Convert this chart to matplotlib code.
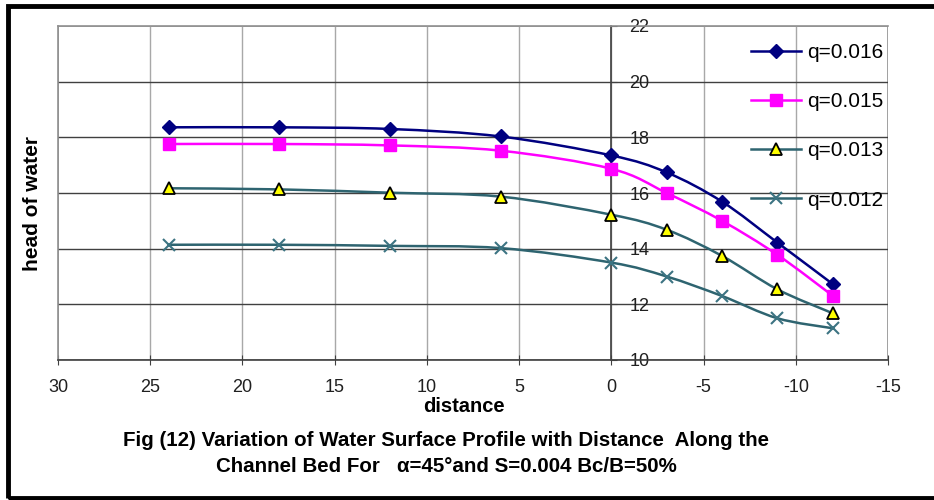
import numpy as np
from matplotlib import pyplot as plt
from matplotlib.path import Path
from matplotlib.patches import PathPatch, Rectangle
from matplotlib.lines import Line2D

# data
distance = [24, 18, 12, 6, 0, -3, -6, -9, -12]
q016 = [18.36, 18.36, 18.30, 18.03, 17.35, 16.74, 15.69, 14.22, 12.73]
q015 = [17.76, 17.76, 17.71, 17.52, 16.87, 16.00, 15.00, 13.78, 12.31]
q013 = [16.17, 16.13, 16.01, 15.87, 15.22, 14.68, 13.74, 12.54, 11.68]
q012 = [14.14, 14.14, 14.10, 14.02, 13.50, 13.00, 12.30, 11.50, 11.14]
labels = ['q=0.016', 'q=0.015', 'q=0.013', 'q=0.012']
x_ticks = [30, 25, 20, 15, 10, 5, 0, -5, -10, -15]
y_ticks = [10, 12, 14, 16, 18, 20, 22]

plt.rcParams['font.family'] = ['Liberation Sans', 'DejaVu Sans']
plt.rcParams['axes.unicode_minus'] = False


def smooth_path(xs, ys):
    """Catmull-Rom curve through the points, as cubic Bezier segments (like Excel's smoothed line)."""
    pts = np.column_stack([xs, ys]).astype(float)
    verts = [pts[0]]
    codes = [Path.MOVETO]
    n = len(pts)
    for i in range(n - 1):
        p0 = pts[i - 1] if i > 0 else pts[i]
        p1 = pts[i]
        p2 = pts[i + 1]
        p3 = pts[i + 2] if i + 2 < n else pts[i + 1]
        c1 = p1 + (p2 - p0) / 6
        c2 = p2 - (p3 - p1) / 6
        verts += [c1, c2, p2]
        codes += [Path.CURVE4] * 3
    return Path(verts, codes)


fig = plt.figure(figsize=(9.34, 5.0), dpi=100)
ax = fig.add_axes([58 / 934, 1 - 360 / 500, (888 - 58) / 934, (360 - 26) / 500])

series = [
    (q016, dict(color='#000080', marker='D', ms=7, mfc='#000080', mec='#000080')),
    (q015, dict(color='#FF00FF', marker='s', ms=9, mfc='#FF00FF', mec='#FF00FF')),
    (q013, dict(color='#2E6470', marker='^', ms=8, mfc='#FFFF00', mec='black', mew=1.3)),
    (q012, dict(color='#2E6470', marker='x', ms=8, mfc='none', mec='#3C7482', mew=1.5)),
]

handles = []
for (vals, st), lab in zip(series, labels):
    ax.add_patch(PathPatch(smooth_path(distance, vals), fill=False,
                           edgecolor=st['color'], lw=1.8, zorder=3))
    ax.plot(distance, vals, ls='none', zorder=4,
            **{k: v for k, v in st.items() if k != 'color'})
    handles.append(Line2D([], [], lw=1.8, **st))

ax.set_xlim(30, -15)
ax.set_ylim(10, 22)
ax.set_xticks(x_ticks)
ax.set_yticks(y_ticks)

# grid: light vertical, dark horizontal
for x in x_ticks[1:-1]:
    ax.axvline(x, color='#A8A8A8', lw=1, zorder=1)
for y in y_ticks[1:-1]:
    ax.axhline(y, color='#404040', lw=1, zorder=1)

for s in ['left', 'top']:
    ax.spines[s].set_color('#909090')
    ax.spines[s].set_linewidth(1.2)
ax.spines['bottom'].set_color('#404040')
ax.spines['bottom'].set_linewidth(1.2)
ax.spines['right'].set_position(('data', 0))
ax.spines['right'].set_color('#404040')
ax.spines['right'].set_linewidth(1.2)
# plot-area right border
ax.add_patch(Rectangle((30, 10), -45, 12, fill=False, edgecolor='#909090', lw=1.2, zorder=0))

ax.yaxis.tick_right()
ax.tick_params(axis='y', direction='out', length=4, pad=9, labelsize=13, colors='#404040',
               labelcolor='#202020')
ax.tick_params(axis='x', direction='inout', length=7, pad=10, labelsize=13, colors='#404040',
               labelcolor='#202020')

ax.set_xlabel('distance', fontsize=14.5, fontweight='bold')
ax.xaxis.set_label_coords(0.489, -0.11)
fig.text(33 / 934, 1 - 204 / 500, 'head of water', rotation=90, fontsize=15,
         fontweight='bold', ha='center', va='center')

fig.legend(handles=handles, labels=labels, loc='upper right', frameon=False,
           bbox_to_anchor=(883 / 934, 1 - 43 / 500), borderaxespad=0, borderpad=0,
           fontsize=15, handlelength=2.4, handletextpad=0.3, labelspacing=1.45)

fig.text(446 / 934, 1 - 441 / 500,
         'Fig (12) Variation of Water Surface Profile with Distance  Along the',
         fontsize=14.8, fontweight='bold', ha='center', va='center')
fig.text(446 / 934, 1 - 466 / 500,
         'Channel Bed For   \u03b1=45\u00b0and S=0.004 Bc/B=50%',
         fontsize=14.8, fontweight='bold', ha='center', va='center')

# outer black frame (right edge runs off the picture)
fig.add_artist(Rectangle((8 / 934, 2 / 500), 1.05, 492 / 500, transform=fig.transFigure,
                         fill=False, edgecolor='black', lw=3.5))

fig.savefig('out.png', dpi=100)
